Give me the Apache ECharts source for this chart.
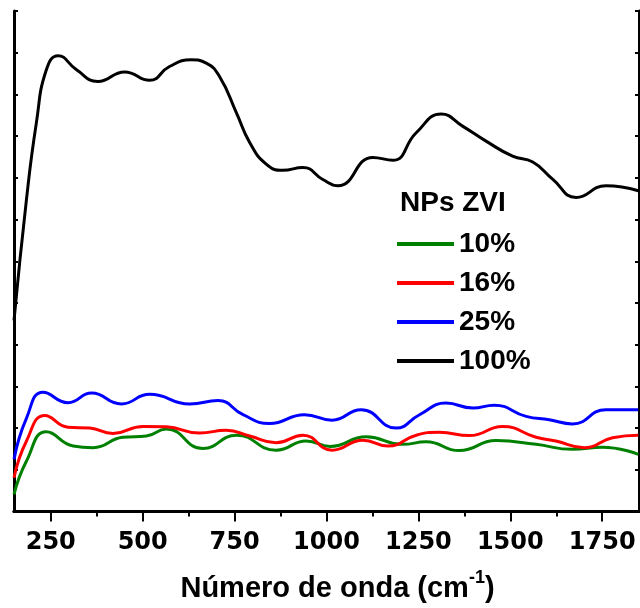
<!DOCTYPE html>
<html>
<head>
<meta charset="utf-8">
<script src="https://cdn.jsdelivr.net/npm/echarts@6/dist/echarts.min.js"></script>
<style>
  html, body { margin: 0; padding: 0; background: #fff; }
  #chart { width: 640px; height: 608px; }
</style>
</head>
<body>
<div id="chart"></div>
<script>
// wavenumber ticks
var majorTicks = [250, 500, 750, 1000, 1250, 1500, 1750];
var minorTicks = [375, 625, 875, 1125, 1375, 1625];
var allTicks = [250, 375, 500, 625, 750, 875, 1000, 1125, 1250, 1375, 1500, 1625, 1750];

var seriesNames = ['10%', '16%', '25%', '100%'];
var seriesColors = ['#008000', '#ff0000', '#0000ff', '#000000'];

// [wavenumber, signal]
var zvi10 = [[150,0.41],[184,1.21],[238,1.91],[311,1.57],[365,1.53],[446,1.78],[510,1.81],[564,1.98],
  [664,1.51],[755,1.83],[863,1.47],[945,1.69],[1010,1.56],[1108,1.79],[1207,1.61],[1271,1.67],
  [1361,1.46],[1461,1.70],[1570,1.61],[1669,1.49],[1751,1.54],[1848,1.37]];
var zvi16 = [[150,0.81],[184,1.69],[234,2.30],[297,2.02],[356,2.00],[419,1.87],[501,2.04],[564,2.03],
  [655,1.88],[727,1.95],[791,1.81],[863,1.65],[936,1.83],[1015,1.47],[1099,1.71],[1167,1.57],
  [1244,1.83],[1307,1.90],[1389,1.82],[1479,2.04],[1570,1.78],[1624,1.69],[1701,1.53],[1778,1.77],[1848,1.83]];
var zvi25 = [[150,1.25],[184,2.24],[229,2.86],[297,2.61],[361,2.84],[442,2.58],[519,2.81],[628,2.58],
  [705,2.66],[773,2.32],[845,2.11],[940,2.32],[1015,2.19],[1094,2.44],[1189,2.00],[1253,2.32],
  [1325,2.60],[1398,2.48],[1456,2.55],[1543,2.28],[1606,2.20],[1669,2.10],[1760,2.44],[1848,2.44]];
var zvi100 = [[150,4.58],[184,7.49],[211,9.33],[238,10.59],[270,10.93],[320,10.59],[378,10.31],
  [451,10.54],[519,10.34],[573,10.67],[632,10.83],[673,10.75],[709,10.43],[755,9.56],[791,8.85],
  [836,8.33],[881,8.18],[936,8.25],[990,7.96],[1031,7.81],[1126,8.49],[1180,8.42],[1244,9.08],
  [1312,9.53],[1370,9.24],[1434,8.88],[1506,8.52],[1561,8.38],[1615,7.97],[1679,7.53],[1760,7.81],[1848,7.69]];

var seriesData = [zvi10, zvi16, zvi25, zvi100];

function initChart(){
	var myChart = echarts.init(document.getElementById('chart'), null, { renderer: 'canvas' });
	var font = 'Liberation Sans, Arial, sans-serif';
	var wide = 'DejaVu Sans, sans-serif';
	var axisLine = { show: true, lineStyle: { color: '#000', width: 3 } };
	var tickStyle = { color: '#000', width: 2 };

	var series = [];
	for (var i = 0; i < seriesData.length; i++) {
		series.push({
			name: seriesNames[i],
			type: 'line',
			data: seriesData[i],
			smooth: 0.5,
			showSymbol: false,
			lineStyle: { color: seriesColors[i], width: 3 },
			itemStyle: { color: seriesColors[i] },
			z: 3
		});
	}

	var option = {
		animation: false,
		title: {
			text: 'NPs ZVI',
			left: 400, top: 189, padding: 0,
			textStyle: { fontFamily: font, fontWeight: 'bold', fontSize: 28, color: '#000' }
		},
		legend: {
			data: seriesNames,
			orient: 'vertical',
			left: 397, top: 228, padding: 0,
			itemWidth: 57, itemHeight: 4,
			itemGap: 7,
			icon: 'rect',
			textStyle: { fontFamily: font, fontWeight: 'bold', fontSize: 28, color: '#000', lineHeight: 32 }
		},
		grid: { left: 14, right: 1, top: 11, bottom: 94, containLabel: false },
		xAxis: [{
			type: 'value',
			min: 150, max: 1850,
			position: 'bottom',
			axisLine: axisLine,
			axisTick: { show: true, length: 10, customValues: majorTicks, lineStyle: tickStyle },
			axisLabel: {
				customValues: majorTicks, margin: 19,
				fontFamily: wide, fontWeight: 'bold', fontSize: 24, color: '#000',
				formatter: function (v) { return String(v); }
			},
			splitLine: { show: false },
			name: '{a|Número de onda (cm}{s|-1}{a|)}',
			nameLocation: 'middle',
			nameGap: 58,
			nameTextStyle: {
				padding: [0, 0, 0, 22],
				rich: {
					a: { fontFamily: font, fontWeight: 'bold', fontSize: 29, color: '#000' },
					s: { fontFamily: font, fontWeight: 'bold', fontSize: 18, color: '#000', verticalAlign: 'top', padding: [0, 0, 20, 0] }
				}
			}
		}, {
			type: 'value',
			min: 150, max: 1850,
			position: 'top',
			axisLine: axisLine,
			axisTick: { show: true, inside: true, length: 5, customValues: allTicks, lineStyle: tickStyle },
			axisLabel: { show: false },
			splitLine: { show: false }
		}, {
			type: 'value',
			min: 150, max: 1850,
			position: 'bottom',
			offset: 0,
			axisLine: { show: false },
			axisTick: { show: true, length: 5, customValues: minorTicks, lineStyle: tickStyle },
			axisLabel: { show: false },
			splitLine: { show: false }
		}],
		yAxis: [{
			type: 'value',
			min: 0, max: 12, interval: 1,
			position: 'left',
			axisLine: axisLine,
			axisTick: { show: true, inside: true, length: 4, lineStyle: tickStyle },
			axisLabel: { show: false },
			splitLine: { show: false }
		}, {
			type: 'value',
			min: 0, max: 12, interval: 1,
			position: 'right',
			axisLine: axisLine,
			axisTick: { show: true, inside: true, length: 4, lineStyle: tickStyle },
			axisLabel: { show: false },
			splitLine: { show: false }
		}],
		series: series
	};
	myChart.setOption(option);
}

initChart();
</script>
</body>
</html>
